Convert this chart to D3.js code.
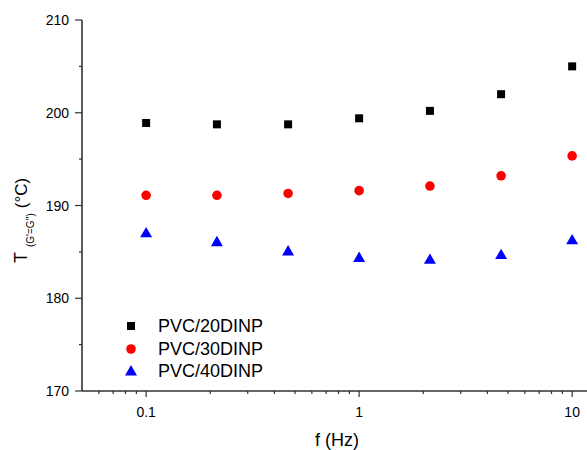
<!DOCTYPE html>
<html lang="en">
<head>
	<meta charset="UTF-8">
	<title>T(G'=G'') vs f</title>
	<script src="https://cdn.jsdelivr.net/npm/d3@7"></script>
	<style>
		body { margin: 0; background: #fff; }
		text { font-family: Arial, "Liberation Sans", sans-serif; fill: #000; }
	</style>
</head>
<body>
	<svg id="viz"></svg>
	<script>
		// Data ---
		const freqs = [0.1, 0.215, 0.464, 1, 2.15, 4.64, 10];
		const pvc20 = [198.9, 198.75, 198.75, 199.4, 200.2, 202.0, 205.0];
		const pvc30 = [191.1, 191.1, 191.3, 191.6, 192.1, 193.2, 195.35];
		const pvc40 = [187.05, 186.1, 185.1, 184.4, 184.2, 184.7, 186.3];
		const seriesNames = ['PVC/20DINP', 'PVC/30DINP', 'PVC/40DINP'];
		const xTickLabels = [0.1, 1, 10];
		const yTickLabels = [170, 180, 190, 200, 210];

		// Dimensions ---
		const svgWidth = 587, svgHeight = 450;
		const axisColor = '#333';

		const svg = d3.select('#viz')
			.attr('width', svgWidth)
			.attr('height', svgHeight);

		// Scales ---
		const x = d3.scaleLog().domain([0.05, 12]).range([82, 589]);
		const y = d3.scaleLinear().domain([170, 210]).range([391, 20]);

		// Minor ticks ---
		const xMinor = [];
		[0.01, 0.1, 1].forEach(dec => {
			for (let k = 1; k <= 9; k++) {
				const v = dec * k;
				if (v > 0.05 && v < 12 && !xTickLabels.includes(+v.toFixed(3))) xMinor.push(v);
			}
		});
		const yMinor = [175, 185, 195, 205];

		// X axis ---
		const gx = svg.append('g');
		gx.append('line')
			.attr('x1', 82).attr('x2', svgWidth)
			.attr('y1', 391).attr('y2', 391)
			.attr('stroke', axisColor).attr('stroke-width', 1.6);
		gx.selectAll('line.minor').data(xMinor).join('line')
			.attr('class', 'minor')
			.attr('x1', d => x(d)).attr('x2', d => x(d))
			.attr('y1', 391).attr('y2', 394)
			.attr('stroke', axisColor).attr('stroke-width', 1.2);
		gx.selectAll('line.major').data(xTickLabels).join('line')
			.attr('class', 'major')
			.attr('x1', d => x(d)).attr('x2', d => x(d))
			.attr('y1', 391).attr('y2', 397)
			.attr('stroke', axisColor).attr('stroke-width', 1.2);
		gx.selectAll('text').data(xTickLabels).join('text')
			.attr('x', d => x(d)).attr('y', 417)
			.attr('text-anchor', 'middle')
			.style('font-size', '14px')
			.text(d => d);

		// Y axis ---
		const gy = svg.append('g');
		gy.append('line')
			.attr('x1', 82).attr('x2', 82)
			.attr('y1', 20).attr('y2', 391)
			.attr('stroke', axisColor).attr('stroke-width', 1.6);
		gy.selectAll('line.minor').data(yMinor).join('line')
			.attr('class', 'minor')
			.attr('x1', 79).attr('x2', 82)
			.attr('y1', d => y(d)).attr('y2', d => y(d))
			.attr('stroke', axisColor).attr('stroke-width', 1.2);
		gy.selectAll('line.major').data(yTickLabels).join('line')
			.attr('class', 'major')
			.attr('x1', 75).attr('x2', 82)
			.attr('y1', d => y(d)).attr('y2', d => y(d))
			.attr('stroke', axisColor).attr('stroke-width', 1.2);
		gy.selectAll('text').data(yTickLabels).join('text')
			.attr('x', 69).attr('y', d => y(d) + 5)
			.attr('text-anchor', 'end')
			.style('font-size', '14px')
			.text(d => d);

		// Axis titles ---
		svg.append('text')
			.attr('x', 337).attr('y', 446)
			.attr('text-anchor', 'middle')
			.style('font-size', '18px')
			.text('f (Hz)');

		const yTitle = svg.append('text')
			.attr('transform', 'translate(27,263) rotate(-90)')
			.attr('text-anchor', 'start')
			.style('font-size', '18px');
		yTitle.append('tspan').text('T');
		yTitle.append('tspan').attr('dx', 5).attr('dy', 7).style('font-size', '10px').text("(G'=G'')");
		yTitle.append('tspan').attr('dx', 5).attr('dy', -7).style('font-size', '17px').text('(°C)');

		// Markers ---
		const symbols = [d3.symbolSquare, d3.symbolCircle, d3.symbolTriangle];
		const sizes = [64, 72, 62];
		const colors = ['#000000', '#ff0000', '#0000ff'];
		const allSeries = [pvc20, pvc30, pvc40];

		allSeries.forEach((vals, si) => {
			const sym = d3.symbol().type(symbols[si]).size(sizes[si]);
			svg.append('g').selectAll('path')
				.data(vals)
				.join('path')
				.attr('d', sym)
				.attr('fill', colors[si])
				.attr('transform', (d, i) => `translate(${x(freqs[i])},${y(d) + (si === 2 ? 1 : 0)})`);
		});

		// Legend ---
		const legendY = [326, 349, 371];
		const legend = svg.append('g');
		seriesNames.forEach((name, si) => {
			const sym = d3.symbol().type(symbols[si]).size(sizes[si]);
			legend.append('path')
				.attr('d', sym)
				.attr('fill', colors[si])
				.attr('transform', `translate(131,${legendY[si] + (si === 2 ? 1 : 0)})`);
			legend.append('text')
				.attr('x', 158).attr('y', legendY[si] + 6)
				.style('font-size', '18px')
				.text(name);
		});
	</script>
</body>
</html>
